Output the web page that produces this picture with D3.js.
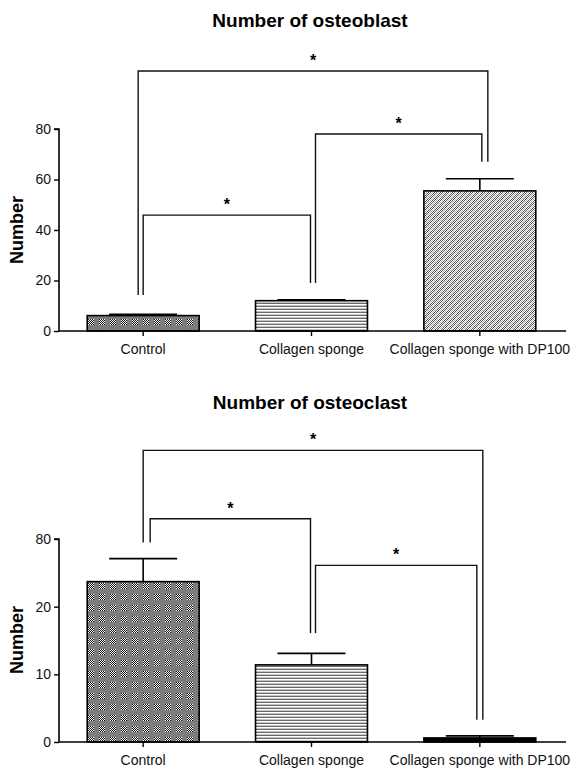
<!DOCTYPE html>
<html>
<head>
<meta charset="utf-8">
<script src="https://cdn.jsdelivr.net/npm/d3@7"></script>
<style>
  body { margin: 0; background: #fff; }
  svg { font-family: "Liberation Sans", Arial, sans-serif; }
</style>
</head>
<body>
<div id="chart"></div>
<script>
// data
const categories = ["Control", "Collagen sponge", "Collagen sponge with DP100"];
const patterns = ["pCheck", "pHoriz", "pDiag"];

const blastMean = [6.1, 12.0, 55.5];
const blastErr = [0.5, 0.4, 4.8];
const blastTicks = [0, 20, 40, 60, 80];
const blastTickLabels = ["0", "20", "40", "60", "80"];
// [from, to, top, leg from, leg to, dx from, dx to]
const blastBrackets = [
  [0, 2, 103, 14.3, 67, -5, 8],
  [0, 1, 45.9, 14.3, 19, 0, -1],
  [1, 2, 78, 19, 67, 4, 2]
];

const clastMean = [23.7, 11.4, 0.6];
const clastErr = [3.4, 1.7, 0.3];
const clastTicks = [0, 10, 20, 30];
const clastTickLabels = ["0", "10", "20", "80"];
const clastBrackets = [
  [0, 2, 43.1, 29.5, 3.3, 0, 3],
  [0, 1, 33.0, 29.5, 16.1, 7, -1],
  [1, 2, 26.1, 16.1, 3.3, 4, -3]
];

const width = 575, height = 772;
const svg = d3.select("#chart").append("svg")
  .attr("width", width)
  .attr("height", height);

// fill patterns
const defs = svg.append("defs");

const pc = defs.append("pattern").attr("id", "pCheck")
  .attr("patternUnits", "userSpaceOnUse").attr("width", 11).attr("height", 11);
pc.append("rect").attr("width", 11).attr("height", 11).attr("fill", "#7d7d7d");
for (let i = 0; i < 6; i++) {
  for (let j = 0; j < 6; j++) {
    pc.append("rect").attr("x", i).attr("y", j).attr("width", 1).attr("height", 1)
      .attr("fill", (i + j) % 2 ? "#ffffff" : "#111111");
  }
}

const ph = defs.append("pattern").attr("id", "pHoriz")
  .attr("patternUnits", "userSpaceOnUse").attr("width", 4).attr("height", 3);
ph.append("rect").attr("width", 4).attr("height", 3).attr("fill", "#ffffff");
ph.append("rect").attr("y", 0).attr("width", 4).attr("height", 1).attr("fill", "#6a6a6a");
ph.append("rect").attr("y", 2).attr("width", 4).attr("height", 1).attr("fill", "#c4c4c4");

// fine checker with lighter "/" diagonals
const pd = defs.append("pattern").attr("id", "pDiag")
  .attr("patternUnits", "userSpaceOnUse").attr("width", 6).attr("height", 6);
pd.append("rect").attr("width", 6).attr("height", 6).attr("fill", "#ffffff");
for (let i = 0; i < 6; i++) {
  for (let j = 0; j < 6; j++) {
    if ((i + j) % 2 === 0) {
      pd.append("rect").attr("x", i).attr("y", j).attr("width", 1).attr("height", 1)
        .attr("fill", (i + j) % 6 === 0 ? "#b0b0b0" : "#555555");
    }
  }
}

const x = d3.scaleBand()
  .domain(categories)
  .range([59, 564])
  .paddingInner(0.335)
  .paddingOuter(0.1675);

function panel(opt) {
  const y = d3.scaleLinear().domain(opt.domain).range(opt.range);
  const g = svg.append("g");

  g.append("text")
    .attr("x", 310).attr("y", opt.titleY)
    .attr("text-anchor", "middle")
    .attr("font-weight", "bold")
    .attr("font-size", 19)
    .text(opt.title);

  // y axis
  const yAxis = g.append("g")
    .attr("transform", "translate(59,0)")
    .call(d3.axisLeft(y).tickValues(opt.ticks).tickSize(5).tickPadding(3)
      .tickFormat((d, i) => opt.tickLabels[i]));
  yAxis.select(".domain").attr("stroke-width", 1.6).attr("d", `M-5,${y(opt.domain[1])}H0V${y(0)}`);
  yAxis.selectAll(".tick line").attr("stroke-width", 1.4);
  yAxis.selectAll(".tick text").attr("font-size", 14).attr("fill", "#111")
    .attr("font-family", "Liberation Sans, Arial, sans-serif");

  g.append("text")
    .attr("transform", `translate(${opt.labelX},${opt.labelY}) rotate(-90)`)
    .attr("text-anchor", "middle")
    .attr("font-weight", "bold")
    .attr("font-size", 18)
    .text("Number");

  // bars
  g.selectAll("rect.bar")
    .data(opt.mean)
    .join("rect")
    .attr("class", "bar")
    .attr("x", (d, i) => x(categories[i]))
    .attr("y", d => y(d))
    .attr("width", x.bandwidth())
    .attr("height", d => y(0) - y(d))
    .attr("fill", (d, i) => opt.fills ? opt.fills[i] : `url(#${patterns[i]})`)
    .attr("stroke", "#000")
    .attr("stroke-width", 1.6);

  // error bars
  const eb = g.selectAll("g.err")
    .data(opt.mean)
    .join("g")
    .attr("class", "err")
    .attr("stroke", "#000")
    .attr("stroke-width", 1.6);
  eb.append("line")
    .attr("x1", (d, i) => x(categories[i]) + x.bandwidth() / 2)
    .attr("x2", (d, i) => x(categories[i]) + x.bandwidth() / 2)
    .attr("y1", d => y(d))
    .attr("y2", (d, i) => y(d + opt.err[i]));
  eb.append("line")
    .attr("x1", (d, i) => x(categories[i]) + x.bandwidth() / 2 - 34)
    .attr("x2", (d, i) => x(categories[i]) + x.bandwidth() / 2 + 34)
    .attr("y1", (d, i) => y(d + opt.err[i]))
    .attr("y2", (d, i) => y(d + opt.err[i]));

  // x axis
  const xAxis = g.append("g")
    .attr("transform", `translate(0,${y(0)})`)
    .call(d3.axisBottom(x).tickSize(5).tickPadding(8).tickSizeOuter(0));
  xAxis.select(".domain").attr("stroke-width", 1.6).attr("d", "M59,0H566");
  xAxis.selectAll(".tick line").attr("stroke-width", 1.4);
  xAxis.selectAll(".tick text").attr("font-size", 14).attr("fill", "#111")
    .attr("font-family", "Liberation Sans, Arial, sans-serif");

  // significance brackets
  const cx = i => x(categories[i]) + x.bandwidth() / 2;
  opt.brackets.forEach(b => {
    const x1 = cx(b[0]) + b[5], x2 = cx(b[1]) + b[6];
    g.append("path")
      .attr("d", `M${x1},${y(b[3])}V${y(b[2])}H${x2}V${y(b[4])}`)
      .attr("fill", "none")
      .attr("stroke", "#111")
      .attr("stroke-width", 1.4);
    g.append("text")
      .attr("x", (x1 + x2) / 2)
      .attr("y", y(b[2]) - 5)
      .attr("text-anchor", "middle")
      .attr("font-weight", "bold")
      .attr("font-size", 16)
      .text("*");
  });
}

panel({
  title: "Number of osteoblast", titleY: 27,
  domain: [0, 80], range: [331, 129],
  ticks: blastTicks, tickLabels: blastTickLabels,
  labelX: 23, labelY: 230,
  mean: blastMean, err: blastErr, brackets: blastBrackets
});

panel({
  title: "Number of osteoclast", titleY: 409,
  domain: [0, 30], range: [742, 539],
  ticks: clastTicks, tickLabels: clastTickLabels,
  labelX: 23, labelY: 640,
  mean: clastMean, err: clastErr, brackets: clastBrackets,
  fills: ["url(#pCheck)", "url(#pHoriz)", "#000"]
});
</script>
</body>
</html>
